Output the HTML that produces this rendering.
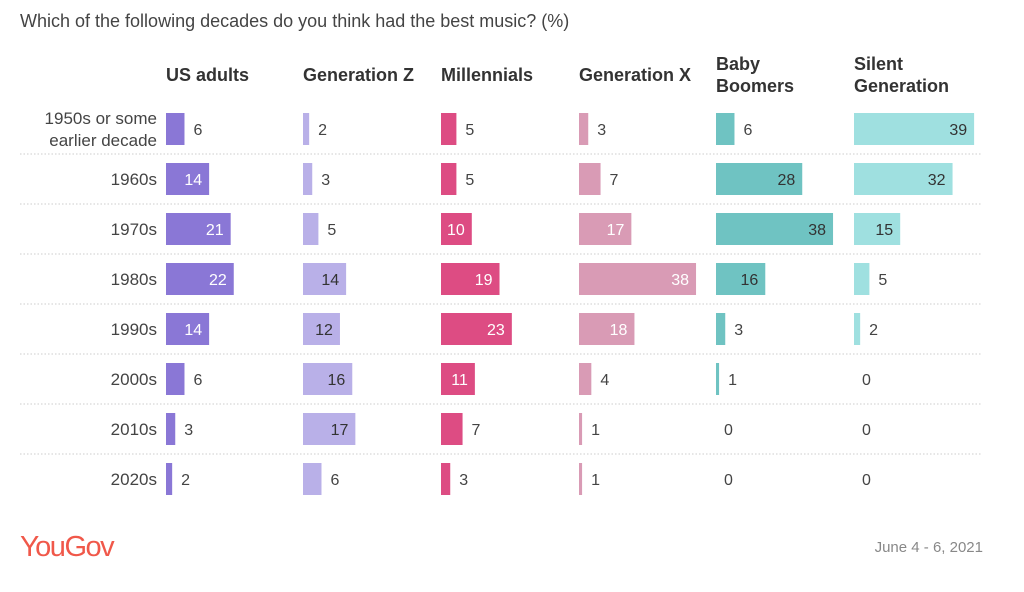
<!DOCTYPE html>
<html><head><meta charset="utf-8">
<style>
body{margin:0;background:#fff;font-family:"Liberation Sans",sans-serif;}
#wrap{position:relative;width:1024px;height:592px;overflow:hidden;}
svg text{font-family:"Liberation Sans",sans-serif;}
</style></head>
<body>
<div id="wrap">
<svg id="chart" width="1024" height="592">
<text x="20" y="27" font-size="18" fill="#444">Which of the following decades do you think had the best music? (%)</text>
<text x="20" y="556" font-size="29" fill="#f0584a" letter-spacing="-1.5">YouGov</text>
<text x="983" y="552" font-size="15" fill="#888" text-anchor="end">June 4 - 6, 2021</text>
</svg>
</div>
<script>
const decades = ["1950s or some|earlier decade","1960s","1970s","1980s","1990s","2000s","2010s","2020s"];
const groups = ["US adults","Generation Z","Millennials","Generation X","Baby|Boomers","Silent|Generation"];
const usAdults = [6,14,21,22,14,6,3,2];
const genZ = [2,3,5,14,12,16,17,6];
const millennials = [5,5,10,19,23,11,7,3];
const genX = [3,7,17,38,18,4,1,1];
const boomers = [6,28,38,16,3,1,0,0];
const silent = [39,32,15,5,2,0,0,0];

const series = [usAdults, genZ, millennials, genX, boomers, silent];
const colors = ["#8a77d6","#b9b0e8","#dd4c83","#d99bb5","#6fc3c2","#9fe0e0"];
const insideText = ["#fff","#333","#fff","#fff","#333","#333"];
const colX = [166,303,441,579,716,854];
const ns = "http://www.w3.org/2000/svg";
const svg = document.getElementById("chart");
const xScale = v => v * 3.08;
const rowY = i => 129 + i * 50;
const barH = 32;

function mk(tag, attrs){const e=document.createElementNS(ns,tag);for(const k in attrs)e.setAttribute(k,attrs[k]);svg.appendChild(e);return e;}

groups.forEach((g,j)=>{
  const lines=g.split("|");
  lines.forEach((ln,k)=>{
    const t=mk("text",{x:colX[j],y:(lines.length===1?81:70+k*22),"font-size":18,"font-weight":"bold",fill:"#333"});
    t.textContent=ln;
    
    
  });
});

for(let i=0;i<decades.length-1;i++){
  const y=(rowY(i)+rowY(i+1))/2;
  const l=mk("line",{x1:20,x2:982,y1:y,y2:y,stroke:"#ccc","stroke-width":1,"stroke-dasharray":"1.5,2"});
  
  
}

decades.forEach((d,i)=>{
  const lines=d.split("|");
  lines.forEach((ln,k)=>{
    const y = lines.length===1 ? rowY(i)+6 : rowY(i)-5+k*22;
    const t=mk("text",{x:157,y:y,"font-size":17,fill:"#444","text-anchor":"end"});
    t.textContent=ln;
    
    
  });
});

series.forEach((vals,j)=>{
  vals.forEach((v,i)=>{
    const x0=colX[j], w=xScale(v), yc=rowY(i);
    if(v>0){
      const r=mk("rect",{x:x0,y:yc-barH/2,width:w,height:barH,fill:colors[j]});
      
      
    }
    let t;
    if(v>=10){
      t=mk("text",{x:x0+w-7,y:yc+6,"font-size":16,fill:insideText[j],"text-anchor":"end"});
    } else {
      t=mk("text",{x:x0+w+(v>0?9:8),y:yc+6,"font-size":16,fill:"#444"});
    }
    t.textContent=v;
    
    
  });
});
</script>
</body></html>
